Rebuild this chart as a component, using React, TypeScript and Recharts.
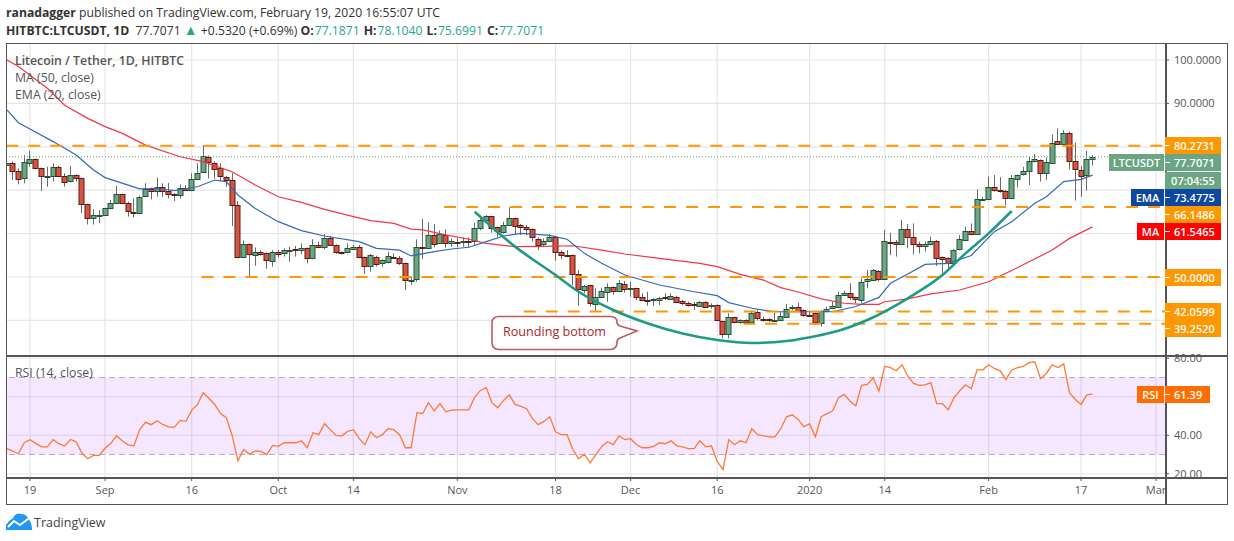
import React from 'react';
import { ComposedChart, Bar, Line, XAxis, YAxis, CartesianGrid, ReferenceArea, ReferenceLine } from 'recharts';

// day 0 is Aug 19 2019, candles run from day -4 to day 184 (Feb 19)
const firstDay = -4;

const opens = [
  76.0, 76.27, 74.5, 72.66, 76.2, 77.1, 75.05, 73.1, 73.1, 75.27,
  73.35, 72.0, 73.4, 72.7, 66.75, 63.5, 64.2, 64.2, 65.8, 67.0,
  69.05, 67.0, 65.05, 64.7, 68.75, 70.35, 69.7, 70.65, 69.8, 69.05,
  68.8, 70.45, 70.05, 72.5, 74.1, 77.75, 76.35, 75.05, 73.1, 72.3,
  66.5, 54.45, 57.5, 55.0, 55.7, 55.45, 53.85, 55.85, 55.4, 56.2,
  56.4, 56.15, 56.6, 54.3, 57.3, 56.85, 59.1, 57.3, 55.7, 55.6,
  56.4, 56.85, 54.55, 52.4, 54.7, 53.15, 53.5, 54.7, 54.45, 53.15,
  49.3, 49.45, 56.85, 56.5, 59.6, 57.75, 59.7, 57.75, 58.15, 58.2,
  58.25, 58.2, 61.2, 63.05, 63.95, 61.45, 60.2, 61.9, 63.5, 61.9,
  61.45, 61.0, 58.85, 57.45, 58.2, 59.15, 55.7, 55.0, 55.0, 50.6,
  47.0, 48.1, 43.65, 45.3, 46.6, 47.6, 46.6, 48.4, 47.3, 47.4,
  45.3, 44.7, 44.55, 44.55, 45.3, 45.0, 45.45, 44.45, 43.95, 43.8,
  43.4, 44.3, 43.4, 43.45, 39.8, 36.8, 40.7, 39.5, 40.0, 39.55,
  41.85, 40.4, 40.25, 40.0, 39.95, 40.95, 42.85, 43.0, 42.3, 41.25,
  41.65, 39.33, 42.0, 42.8, 43.15, 45.8, 46.25, 45.3, 44.55, 48.9,
  49.25, 51.4, 49.45, 58.15, 58.05, 57.5, 61.0, 59.15, 57.5, 57.0,
  57.45, 58.2, 54.55, 54.3, 53.15, 56.3, 58.45, 60.5, 59.85, 67.95,
  67.9, 70.65, 69.95, 69.8, 68.1, 72.5, 73.6, 74.3, 76.6, 76.9,
  73.9, 76.4, 81.35, 80.5, 83.1, 76.65, 74.55, 73.4, 77.19,
];
const highs = [
  76.7, 76.6, 75.0, 78.1, 79.1, 77.3, 75.2, 75.4, 76.2, 75.6,
  73.9, 75.6, 73.7, 72.9, 66.9, 65.6, 65.4, 66.0, 67.75, 71.0,
  69.2, 67.35, 68.1, 68.75, 71.6, 70.6, 72.9, 71.6, 71.7, 69.3,
  71.35, 71.2, 73.9, 76.2, 80.4, 78.0, 76.65, 76.2, 73.35, 73.9,
  67.5, 58.4, 57.75, 56.8, 56.2, 55.7, 56.2, 56.2, 56.6, 57.0,
  57.15, 57.75, 56.8, 58.7, 58.15, 59.9, 59.45, 57.5, 55.85, 57.75,
  57.4, 57.4, 54.7, 55.3, 54.9, 54.1, 55.85, 55.45, 54.85, 53.3,
  50.1, 58.7, 63.4, 62.6, 62.2, 60.7, 61.0, 58.9, 58.9, 59.15,
  59.15, 62.5, 63.9, 64.3, 64.1, 61.6, 62.75, 66.05, 63.7, 62.2,
  62.0, 61.2, 59.15, 58.9, 59.85, 59.3, 56.2, 56.2, 55.2, 51.6,
  48.15, 48.25, 47.4, 47.55, 48.55, 47.9, 49.3, 49.1, 48.95, 47.55,
  46.25, 46.6, 45.1, 45.45, 46.25, 46.25, 45.7, 44.7, 44.3, 44.25,
  44.45, 44.45, 43.95, 43.7, 39.95, 41.65, 40.85, 40.25, 40.25, 42.25,
  42.4, 40.85, 40.5, 41.8, 42.0, 43.8, 43.55, 44.1, 42.55, 42.0,
  41.85, 42.4, 43.15, 44.3, 46.6, 46.85, 48.55, 45.45, 49.7, 51.6,
  51.8, 51.6, 60.85, 60.2, 58.5, 63.15, 62.2, 62.35, 58.15, 58.15,
  59.3, 58.5, 54.7, 54.55, 56.4, 59.7, 61.6, 62.35, 70.2, 68.5,
  73.1, 73.5, 73.0, 70.05, 73.5, 73.6, 75.4, 77.7, 78.35, 77.1,
  77.55, 82.85, 84.25, 83.85, 83.5, 81.0, 75.55, 79.05, 78.1,
];
const lows = [
  75.6, 72.35, 71.35, 71.6, 75.4, 74.8, 69.9, 70.8, 72.0, 73.0,
  70.8, 71.8, 72.0, 64.7, 62.1, 62.1, 62.4, 64.1, 65.6, 66.8,
  66.8, 63.9, 63.75, 64.5, 68.5, 67.9, 68.5, 68.5, 68.1, 67.5,
  68.1, 69.8, 69.8, 72.3, 74.0, 72.7, 72.7, 72.0, 70.8, 61.75,
  54.3, 54.3, 49.85, 52.6, 54.9, 51.9, 52.4, 54.5, 54.7, 53.5,
  54.7, 55.3, 53.15, 54.1, 56.6, 56.4, 57.3, 55.3, 55.2, 55.45,
  56.2, 54.3, 50.7, 51.2, 52.4, 52.4, 53.15, 54.2, 52.75, 47.0,
  48.2, 48.9, 54.1, 56.4, 56.85, 57.6, 56.75, 57.0, 56.85, 57.0,
  56.85, 57.4, 60.8, 62.9, 60.2, 59.15, 60.05, 61.75, 59.9, 59.7,
  59.7, 58.15, 56.2, 56.85, 58.05, 53.75, 54.1, 54.55, 48.15, 43.4,
  46.25, 43.2, 42.0, 45.15, 44.3, 45.85, 46.5, 46.4, 45.45, 44.7,
  44.4, 43.4, 43.3, 43.55, 44.7, 44.85, 43.95, 43.5, 43.2, 42.4,
  43.25, 43.0, 42.65, 39.85, 35.85, 35.85, 39.3, 39.2, 39.2, 39.4,
  39.95, 39.7, 39.55, 39.8, 39.8, 40.8, 42.4, 42.0, 40.85, 41.1,
  38.95, 38.55, 41.85, 42.65, 43.0, 45.65, 44.7, 43.95, 43.95, 47.4,
  49.1, 48.95, 49.3, 55.05, 54.7, 57.35, 56.6, 55.2, 55.45, 55.85,
  57.3, 52.55, 50.85, 52.0, 53.0, 56.15, 58.3, 59.6, 59.7, 67.75,
  67.75, 69.65, 69.45, 66.5, 68.0, 70.65, 73.4, 71.2, 76.4, 72.0,
  72.35, 76.25, 80.4, 80.35, 74.8, 67.6, 68.5, 69.9, 75.7,
];
const closes = [
  76.35, 74.5, 72.6, 76.42, 77.1, 75.05, 73.1, 73.3, 75.27, 73.1,
  72.0, 73.4, 72.7, 66.75, 63.5, 64.2, 64.3, 65.8, 67.0, 69.05,
  67.0, 65.05, 64.8, 68.5, 70.35, 70.0, 70.65, 69.7, 69.05, 68.75,
  70.45, 70.05, 72.5, 73.9, 77.9, 76.6, 75.05, 73.1, 72.3, 66.5,
  54.45, 57.5, 55.2, 55.7, 55.15, 53.85, 55.85, 55.4, 56.15, 56.25,
  56.35, 56.6, 54.3, 57.3, 56.85, 58.9, 57.5, 55.6, 55.4, 56.6,
  56.85, 54.55, 52.4, 55.0, 53.15, 53.85, 54.85, 54.45, 53.3, 49.3,
  49.35, 56.85, 56.6, 59.6, 57.45, 59.9, 57.75, 58.2, 58.1, 58.25,
  58.2, 61.2, 63.05, 63.95, 61.2, 60.5, 61.9, 63.5, 61.6, 61.35,
  60.9, 59.15, 57.45, 58.2, 59.15, 55.7, 54.9, 54.7, 50.6, 47.25,
  47.85, 43.85, 45.3, 46.7, 47.7, 46.6, 48.55, 47.15, 47.4, 45.25,
  44.55, 44.65, 44.85, 45.1, 45.0, 45.6, 44.4, 43.95, 43.5, 43.75,
  44.3, 43.2, 43.45, 40.0, 36.8, 40.7, 39.55, 40.0, 39.55, 41.65,
  40.4, 40.35, 39.95, 40.05, 40.95, 42.7, 43.0, 42.15, 41.15, 41.2,
  39.55, 42.17, 42.55, 43.3, 45.85, 46.25, 45.3, 44.85, 48.8, 49.45,
  51.55, 49.45, 58.2, 57.95, 57.5, 61.0, 59.15, 57.45, 57.0, 57.5,
  58.2, 54.3, 54.15, 53.15, 56.15, 58.7, 60.5, 59.75, 67.9, 68.05,
  70.65, 69.9, 69.65, 68.1, 72.75, 73.4, 74.35, 76.65, 77.1, 73.9,
  76.5, 80.95, 80.55, 83.1, 76.65, 74.8, 73.1, 77.1, 77.71,
];
const rsiValues = [
  33, 31.8, 30.4, 36.1, 37.7, 35.8, 34, 34, 37.7, 35.6,
  34.4, 37.8, 36.6, 30.6, 27.8, 29.5, 29.5, 33.2, 35.8, 39.7,
  37, 35, 34.5, 43, 46.7, 45.5, 47.5, 45.6, 44.4, 44.1,
  47.7, 47.2, 52.9, 56, 62.1, 59.1, 56, 51.3, 49.1, 39.9,
  26.8, 32.6, 30.2, 31.9, 31.6, 29.9, 34.7, 34.2, 36.1, 36.1,
  36.1, 37.1, 33.5, 41.3, 40.3, 46, 42.9, 39.9, 39.7, 42,
  42.9, 38.2, 35.1, 41.8, 38.7, 40.3, 43.4, 42.9, 40.3, 33.5,
  33.5, 51.7, 51.3, 56.9, 52.7, 56.4, 52.2, 53.1, 53.2, 53.2,
  53.2, 59.8, 63.3, 64.7, 56.9, 54.3, 58.1, 61, 56, 55,
  53.8, 48.6, 45.5, 47.2, 49.6, 41.8, 40.3, 40.3, 32.6, 27.8,
  30.2, 25.7, 29.9, 34.2, 36.6, 35.1, 39.7, 37.7, 38.2, 35.2,
  33.5, 33.5, 34.2, 36.1, 35.6, 37.1, 34.5, 33.9, 33, 33,
  37.1, 34, 34.5, 26.4, 22.1, 37.7, 35.1, 37.1, 36.1, 43.4,
  40.3, 39.7, 39.2, 39.2, 43.4, 49.6, 50.6, 48.2, 44.4, 46,
  39.2, 49.6, 51.2, 52.7, 59.5, 61.2, 57.7, 55.3, 65.9, 66.4,
  69.9, 62.9, 75.8, 75.1, 73.5, 76.6, 70.7, 66.9, 65.9, 66.2,
  67.3, 56.5, 56.4, 53.2, 59.5, 63.1, 66.2, 64.2, 74, 74,
  76.6, 74.7, 73.5, 69, 73.9, 75.1, 75.8, 77.7, 78.2, 69.4,
  72.1, 76.6, 75.2, 77.1, 62.1, 58.6, 56, 61, 61.39,
];

const maDays = [-4, -2, 3, 6, 10, 13, 16, 20, 26, 30, 35, 39, 43, 47, 51, 56, 59, 63, 66, 68, 72, 76, 79, 84, 89, 94, 99, 103, 109, 116, 119, 123, 127, 130, 133, 137, 141, 144, 147, 148, 152, 156, 161, 166, 169, 173, 177, 180, 184];
const maValues = [100, 98.5, 93.5, 89.6, 86.55, 84.65, 83.1, 80.4, 77.7, 76.6, 74.25, 71.2, 68.5, 67.2, 65.6, 63.9, 63, 62.35, 61.05, 60.85, 59.7, 58.7, 57.75, 57, 57.05, 57.2, 56.2, 55.3, 54.3, 53.15, 52.4, 50.6, 49.3, 47.55, 46.55, 44.95, 43.95, 43.7, 43.7, 44.3, 44.95, 46.1, 47, 48.9, 50.85, 53.5, 56.2, 58.9, 61.55];
const emaDays = [-4, -2, 0, 4, 8, 11, 13, 19, 22, 25, 29, 32, 34, 36, 39, 43, 47, 51, 57, 60, 64, 66, 70, 73, 76, 79, 82, 85, 90, 93, 96, 99, 103, 109, 115, 119, 121, 125, 129, 137, 139, 143, 147, 149, 152, 155, 159, 163, 165, 167, 170, 174, 176, 179, 182, 184];
const emaValues = [88.5, 85.55, 84.1, 81.2, 78.1, 74.65, 72.9, 70.3, 70.4, 69.9, 70.8, 72.35, 72, 68.9, 65.8, 62.75, 60.7, 59.45, 58.15, 56.6, 56.2, 54.85, 55.85, 56.45, 56.85, 58.15, 59.45, 60.05, 59.6, 58.7, 55.45, 53.15, 50.45, 48.15, 46.6, 45.7, 44.1, 42.8, 42, 42, 42, 43.2, 45.3, 48.55, 50.7, 52.9, 53.15, 54.95, 57.75, 60.45, 62.75, 67, 68.5, 72, 72.5, 73.48];
const arcDays = [77, 84, 91, 95, 101, 107, 113, 119, 125, 131, 137, 139, 145, 152, 158, 162, 166, 170];
const arcValues = [65.05, 57, 50.45, 46.6, 42.4, 39.3, 37, 35.5, 34.8, 35.25, 36.65, 37.25, 40.1, 45.1, 50.45, 55.45, 60.05, 65.2];

const levelValues = [80.2731, 66.1486, 50, 42.0599, 39.252];
const levelStartDays = [-4.1, 71.7, 29.7, 85.5, 123.5];
const lastPrice = 77.7071;

const dateTickDays = [0, 13, 28, 43, 56, 74, 91, 104, 119, 135, 148, 166, 182, 195];
const dateTickLabels = ['19', 'Sep', '16', 'Oct', '14', 'Nov', '18', 'Dec', '16', '2020', '14', 'Feb', '17', 'Mar'];
const priceGrid = [100, 90, 80, 70, 60, 50, 40];
const priceTicks = [100, 90];
const rsiGrid = [80, 60, 40, 20];
const rsiTicks = [80, 40, 20];

const FONT = '"Open Sans", sans-serif';
const DAY_DOMAIN = [-4.156, 196.54];
const GRID = '#e6e6e6';
const TEXT = '#555';
const TEAL = '#26a69a';

const candles = opens.map((open, i) => ({
  day: firstDay + i,
  open,
  high: highs[i],
  low: lows[i],
  close: closes[i],
  range: [lows[i], highs[i]],
  rsi: rsiValues[i],
}));
const maLine = maDays.map((day, i) => ({ day, value: maValues[i] }));
const emaLine = emaDays.map((day, i) => ({ day, value: emaValues[i] }));
const arcLine = arcDays.map((day, i) => ({ day, value: arcValues[i] }));

const Candle = (props: any) => {
  const { x, y, width, height, payload } = props;
  const top = Math.min(y, y + height);
  const ppu = Math.abs(height) / (payload.high - payload.low);
  const up = payload.close >= payload.open;
  const bodyTop = top + (payload.high - Math.max(payload.open, payload.close)) * ppu;
  const bodyH = Math.abs(payload.open - payload.close) * ppu;
  const cx = Math.floor(x + width / 2) + 0.5;
  return (
    <g>
      <line x1={cx} x2={cx} y1={top} y2={top + Math.abs(height)} stroke="#6a6a6a" strokeWidth={1} />
      <rect
        x={cx - 2.5}
        y={Math.round(bodyTop) + 0.5}
        width={5}
        height={Math.max(Math.round(bodyH), 1)}
        fill={up ? '#6ba583' : '#d75442'}
        stroke={up ? '#225437' : '#5b1a13'}
        strokeWidth={1}
      />
    </g>
  );
};

const tagStyle = (left: number, top: number, width: number, bg: string): React.CSSProperties => ({
  position: 'absolute',
  left,
  top,
  width,
  height: 17,
  lineHeight: '17px',
  background: bg,
  color: '#fff',
  fontSize: 11,
  fontFamily: FONT,
  fontWeight: 600,
  textAlign: 'center',
});

const PriceTag = ({ top, text, bg, width = 56 }: { top: number; text: string; bg: string; width?: number }) => (
  <>
    <div style={{ ...tagStyle(1165, top, width, bg), textAlign: 'left', paddingLeft: 9, width: width - 9 }}>{text}</div>
    <div style={{ position: 'absolute', left: 1165, top: top + 8, width: 5, height: 1, background: '#fff' }} />
  </>
);

const Ohlc = ({ label, value }: { label: string; value: string }) => (
  <span style={{ marginRight: 4 }}>
    <b>{label}</b>
    <span style={{ color: TEAL, marginLeft: 1 }}>{value}</span>
  </span>
);

const App = () => (
  <div style={{ position: 'absolute', left: 0, top: 0, width: 1234, height: 541, background: '#fff', fontFamily: FONT, overflow: 'hidden' }}>
    <div style={{ position: 'absolute', left: 6, top: 4, fontSize: 12.2, color: '#333', whiteSpace: 'nowrap', lineHeight: '17px' }}>
      <b>ranadagger</b> published on TradingView.com, February 19, 2020 16:55:07 UTC
    </div>
    <div style={{ position: 'absolute', left: 6, top: 21, fontSize: 12.2, color: '#333', whiteSpace: 'nowrap', lineHeight: '17px' }}>
      <b>HITBTC:LTCUSDT, 1D</b>&nbsp; 77.7071 <span style={{ color: TEAL, fontSize: 14 }}>▲</span> +0.5320 (+0.69%){' '}
      <Ohlc label="O:" value="77.1871" />
      <Ohlc label="H:" value="78.1040" />
      <Ohlc label="L:" value="75.6991" />
      <Ohlc label="C:" value="77.7071" />
    </div>

    <div style={{ position: 'absolute', left: 0, top: 0 }}>
      <ComposedChart width={1234} height={355} data={candles} margin={{ top: 43, right: 0, bottom: 0, left: 6 }}>
        <CartesianGrid stroke={GRID} strokeWidth={1.2} horizontalValues={priceGrid} verticalValues={dateTickDays} />
        <XAxis dataKey="day" type="number" domain={DAY_DOMAIN} ticks={dateTickDays} allowDataOverflow hide />
        <YAxis
          orientation="right"
          width={69}
          domain={[32.03, 103.92]}
          ticks={priceTicks}
          interval={0}
          allowDataOverflow
          axisLine={false}
          tickSize={4}
          tickMargin={5}
          tickLine={{ stroke: '#555' }}
          tick={{ fill: TEXT, fontSize: 11, fontFamily: FONT }}
          tickFormatter={(v: number) => v.toFixed(4)}
        />
        <ReferenceLine y={lastPrice} stroke="#5c9d7e" strokeDasharray="1 2" />
        <Line data={maLine} dataKey="value" stroke="#f23645" strokeWidth={1.2} dot={false} isAnimationActive={false} />
        <Line data={emaLine} dataKey="value" stroke="#3468b8" strokeWidth={1.2} dot={false} isAnimationActive={false} />
        <Bar dataKey="range" barSize={5} shape={Candle} isAnimationActive={false} />
        {levelValues.map((value, i) => (
          <Line
            key={value}
            data={[{ day: levelStartDays[i], value }, { day: DAY_DOMAIN[1], value }]}
            dataKey="value"
            stroke="#ff9800"
            strokeWidth={2}
            strokeDasharray="12 10"
            dot={false}
            isAnimationActive={false}
          />
        ))}
        <Line data={arcLine} dataKey="value" type="monotone" stroke="#1d9b84" strokeWidth={2.6} dot={false} isAnimationActive={false} />
      </ComposedChart>
    </div>

    <div style={{ position: 'absolute', left: 0, top: 349 }}>
      <ComposedChart width={1234} height={155} data={candles} margin={{ top: 6, right: 0, bottom: 0, left: 6 }}>
        <ReferenceArea y1={30} y2={70} fill="#9915ff" fillOpacity={0.1} stroke="none" />
        <CartesianGrid stroke={GRID} strokeWidth={1.2} horizontalValues={rsiGrid} verticalValues={dateTickDays} />
        <ReferenceLine y={70} stroke="#b9aac4" strokeDasharray="6 4" />
        <ReferenceLine y={30} stroke="#b9aac4" strokeDasharray="6 4" />
        <XAxis
          dataKey="day"
          type="number"
          domain={DAY_DOMAIN}
          ticks={dateTickDays}
          interval={0}
          allowDataOverflow
          height={27}
          axisLine={false}
          tickSize={4}
          tickMargin={5}
          tickLine={{ stroke: '#555' }}
          tick={{ fill: TEXT, fontSize: 11, fontFamily: FONT }}
          tickFormatter={(v: number) => dateTickLabels[dateTickDays.indexOf(v)]}
        />
        <YAxis
          orientation="right"
          width={69}
          domain={[18.3, 81.7]}
          ticks={rsiTicks}
          interval={0}
          allowDataOverflow
          axisLine={false}
          tickSize={4}
          tickMargin={5}
          tickLine={{ stroke: '#555' }}
          tick={{ fill: TEXT, fontSize: 11, fontFamily: FONT }}
          tickFormatter={(v: number) => v.toFixed(2)}
        />
        <Line dataKey="rsi" stroke="#ff7a33" strokeWidth={1.3} dot={false} isAnimationActive={false} />
      </ComposedChart>
    </div>

    {/* frame */}
    <div style={{ position: 'absolute', left: 6, top: 43, width: 1220, height: 460, border: '1.5px solid #555', pointerEvents: 'none' }} />
    <div style={{ position: 'absolute', left: 1165, top: 43, width: 1.5, height: 461, background: '#555' }} />
    <div style={{ position: 'absolute', left: 6, top: 355, width: 1221, height: 1.5, background: '#555' }} />
    <div style={{ position: 'absolute', left: 6, top: 477, width: 1221, height: 1.5, background: '#555' }} />

    {/* pane legends */}
    <div style={{ position: 'absolute', left: 15, top: 52, fontSize: 12.3, color: '#555', lineHeight: '17px', whiteSpace: 'nowrap' }}>
      <div style={{ fontWeight: 600 }}>Litecoin / Tether, 1D, HITBTC</div>
      <div>MA (50, close)</div>
      <div>EMA (20, close)</div>
    </div>
    <div style={{ position: 'absolute', left: 15, top: 364, fontSize: 12.3, color: '#555', lineHeight: '17px' }}>RSI (14, close)</div>

    {/* rounding bottom callout */}
    <svg style={{ position: 'absolute', left: 0, top: 0 }} width={1234} height={541}>
      <path
        d="M499 316.5 H610 Q617 316.5 617 322 Q617 325 620 326 L637 331 L620 338 Q617 339 617 342 Q617 349.5 610 349.5 H499 Q492 349.5 492 342 V323 Q492 316.5 499 316.5 Z"
        fill="#fff"
        stroke="#a6262b"
        strokeOpacity={0.75}
        strokeWidth={1.6}
      />
      <text x={503} y={336} fontSize={12.6} fontFamily={FONT} fill="#a6262b">Rounding bottom</text>
      {/* tradingview logo */}
      <path d="M6 530 L6 525 Q8 521 13 518 Q16 512 21 514 Q27 514 28 519 Q32 522 32 530 Z" fill="#2196f3" />
      <path d="M8 527 L14 521 L20 525 L28 519" fill="none" stroke="#fff" strokeWidth={2} />
      <text x={34} y={527} fontSize={12.5} fontFamily={FONT} fill="#444">TradingView</text>
    </svg>

    {/* price tags */}
    <PriceTag top={137} text="80.2731" bg="#ff9800" />
    <div style={tagStyle(1109, 154, 55, '#6ba583')}>LTCUSDT</div>
    <PriceTag top={154} text="77.7071" bg="#6ba583" />
    <div style={tagStyle(1165, 172, 56, '#6ba583')}>07:04:55</div>
    <div style={tagStyle(1131, 189, 33, '#0d47a1')}>EMA</div>
    <PriceTag top={189} text="73.4775" bg="#0d47a1" />
    <PriceTag top={206} text="66.1486" bg="#ff9800" />
    <div style={tagStyle(1137, 223, 27, '#ff0000')}>MA</div>
    <PriceTag top={223} text="61.5465" bg="#ff0000" />
    <PriceTag top={269} text="50.0000" bg="#ff9800" />
    <PriceTag top={303} text="42.0599" bg="#ff9800" />
    <PriceTag top={320} text="39.2520" bg="#ff9800" />
    <div style={tagStyle(1137, 386, 27, '#ff6d00')}>RSI</div>
    <PriceTag top={386} text="61.39" bg="#ff6d00" width={45} />
  </div>
);

export default App;
